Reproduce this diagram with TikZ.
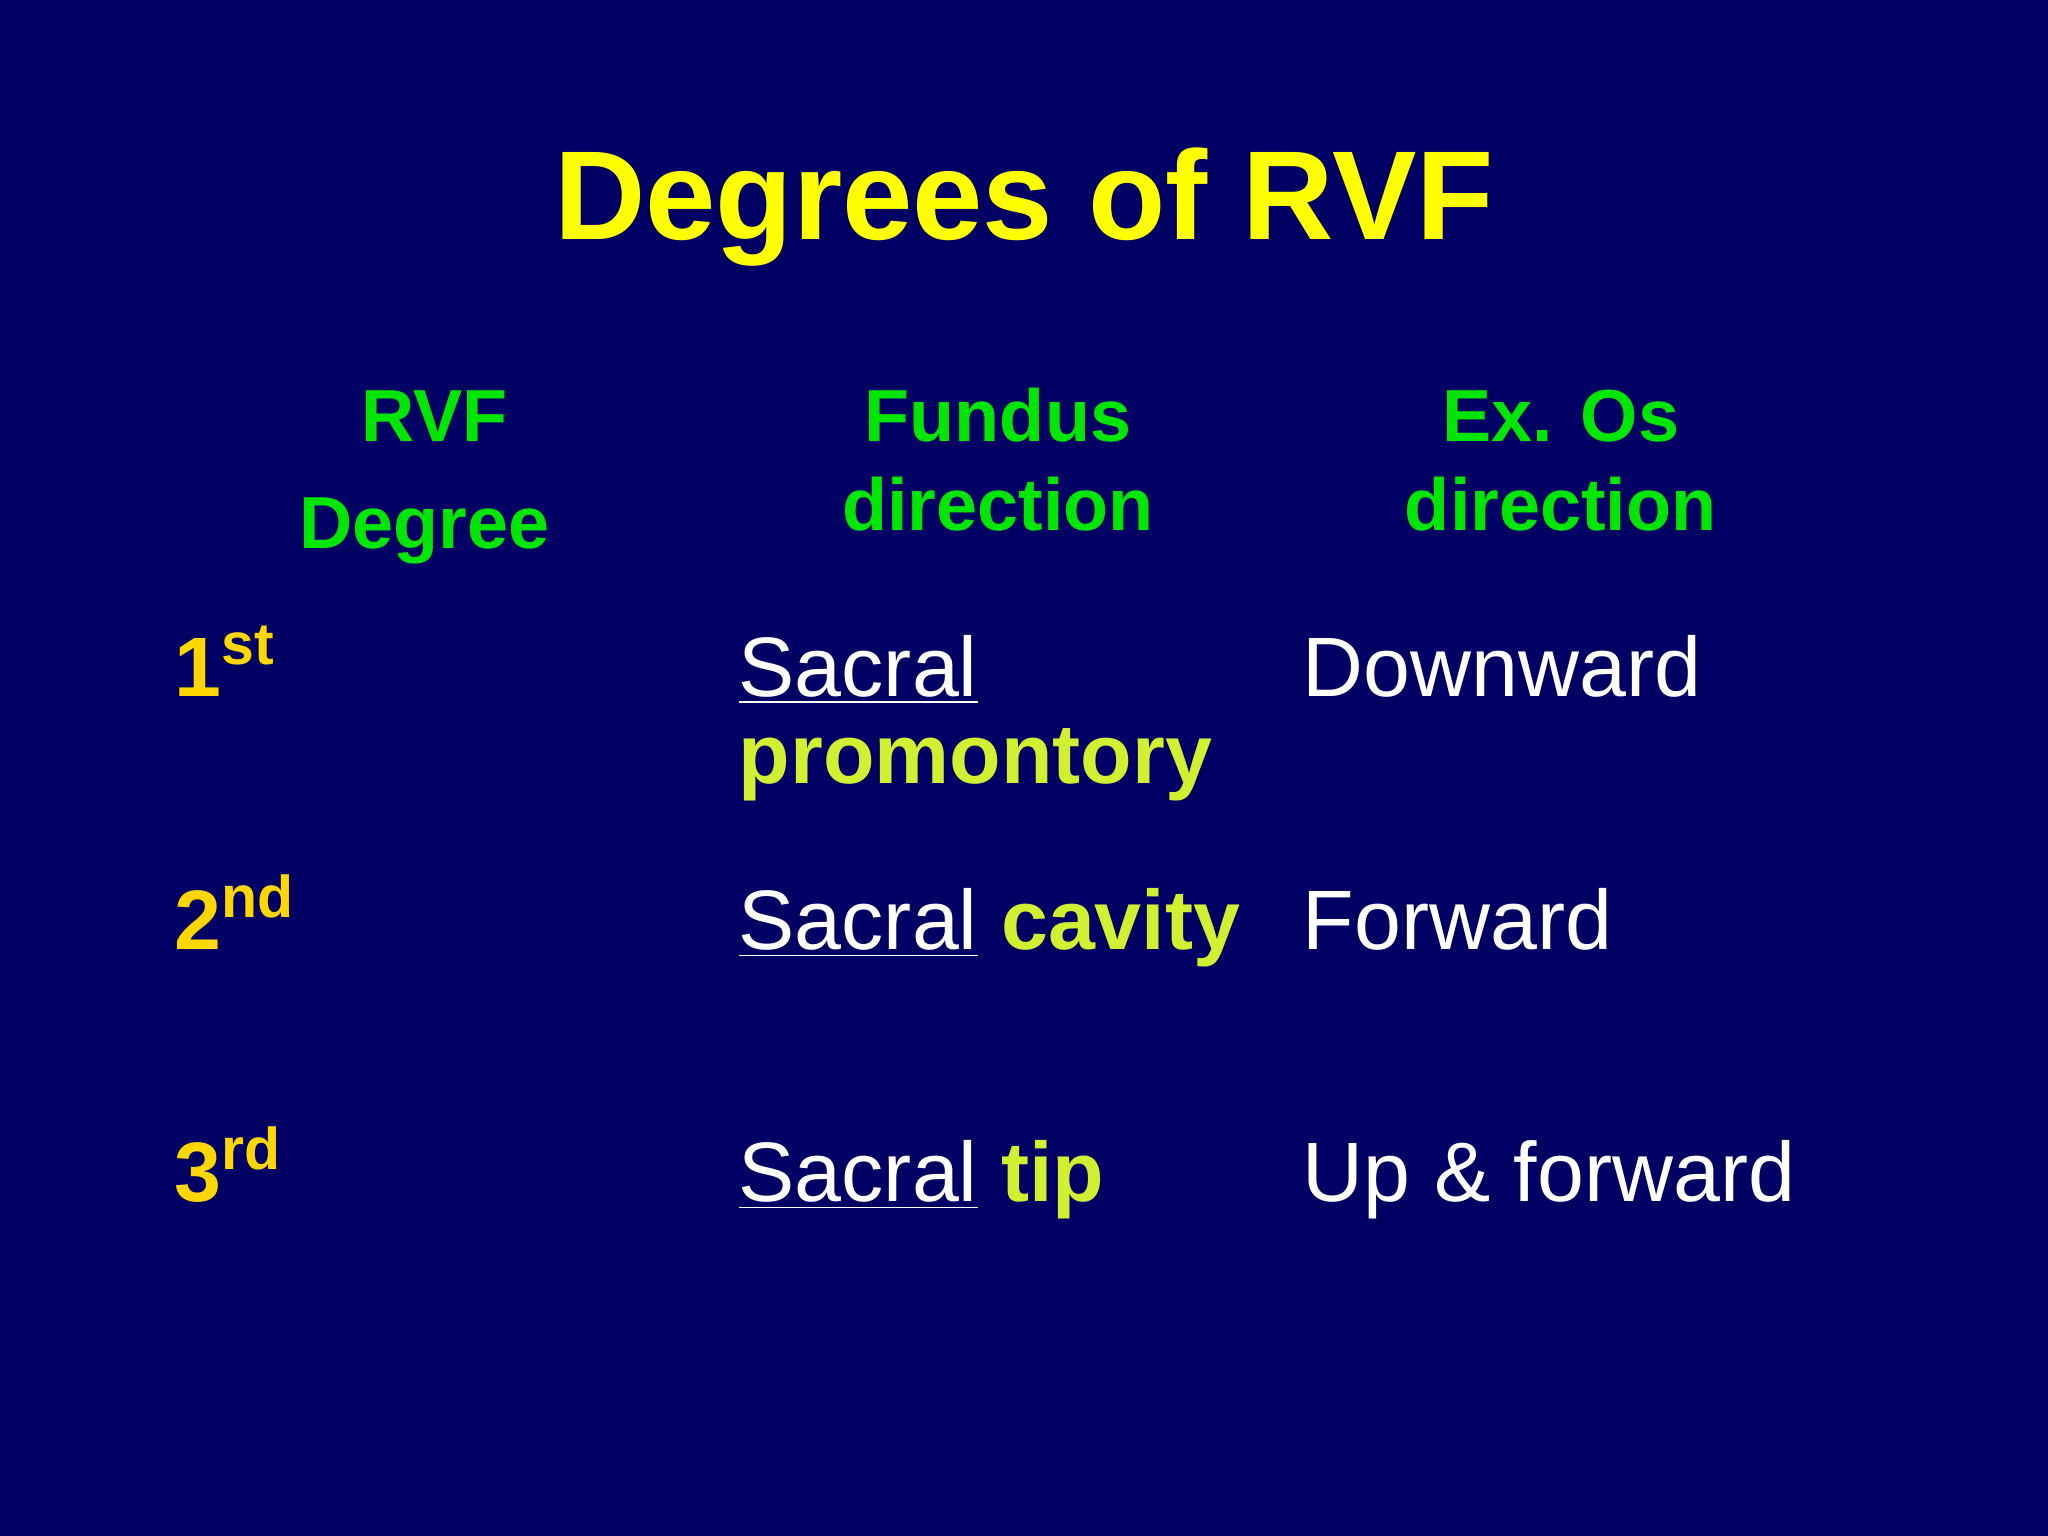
\documentclass[tikz,border=0pt]{standalone}
\usepackage{fontspec}
\setmainfont{Liberation Sans}
\definecolor{bg}{RGB}{0,0,100}
\definecolor{ttl}{RGB}{255,255,0}
\definecolor{hdr}{RGB}{0,230,0}
\definecolor{deg}{RGB}{255,215,0}
\definecolor{lime}{RGB}{210,240,50}
\tikzset{t/.style={inner sep=0pt,anchor=base west,text=white,font=\fontsize{24}{28}\selectfont},
h/.style={inner sep=0pt,anchor=base,text=hdr,font=\fontsize{21}{25}\bfseries\selectfont},
d/.style={inner sep=0pt,anchor=base west,text=deg,font=\fontsize{24}{28}\bfseries\selectfont}}
\newcommand{\ul}[1]{\underline{#1}}
\begin{document}
\begin{tikzpicture}[x=0.01306cm,y=-0.01306cm]
\fill[bg] (0,0) rectangle (1568,1176);
\node[inner sep=0pt,anchor=base,text=ttl,font=\fontsize{36}{40}\bfseries\selectfont] (title) at (784,183) {Degrees of RVF};
\node[h] (h1a) at (333,338) {RVF};
\node[h] (h1b) at (325,420) {Degree};
\node[h] (h2a) at (764,338) {Fundus};
\node[h] (h2b) at (764,406) {direction};
\node[h] (h3a) at (1195,338) {Ex. Os};
\node[h] (h3b) at (1195,406) {direction};
\node[d] (d1) at (133,533) {1\textsuperscript{st}};
\node[d] (d2) at (133,727) {2\textsuperscript{nd}};
\node[d] (d3) at (133,920) {3\textsuperscript{rd}};
\node[t] (f1) at (565,533) {\ul{Sacral}};
\node[t,text=lime,font=\fontsize{24}{28}\bfseries\selectfont] (f1b) at (565,600) {promontory};
\node[t] (f2) at (565,727) {\ul{Sacral} \textcolor{lime}{\bfseries cavity}};
\node[t] (f3) at (565,920) {\ul{Sacral} \textcolor{lime}{\bfseries tip}};
\node[t] (e1) at (997,533) {Downward};
\node[t] (e2) at (997,727) {Forward};
\node[t] (e3) at (997,920) {Up \& forward};
\end{tikzpicture}
\end{document}
